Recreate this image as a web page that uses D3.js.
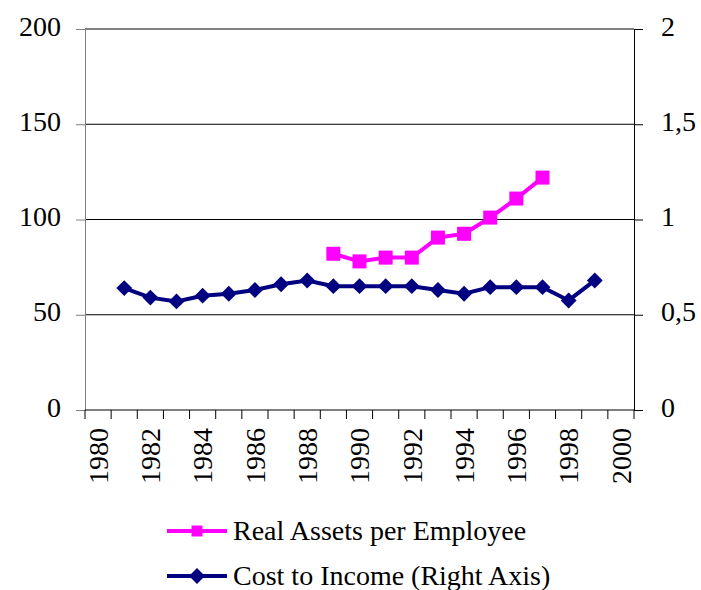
<!DOCTYPE html>
<html>
<head>
<meta charset="utf-8">
<script src="https://cdn.jsdelivr.net/npm/d3@7"></script>
<style>
    body { margin: 0; background: #fff; }
    svg text { font-family: "Liberation Serif", "DejaVu Serif", serif; fill: #000; }
</style>
</head>
<body>
<div id="chart"></div>
<script>
// chart data
var years = d3.range(1980, 2001);
var yearLabels = years.filter(function (y) { return y % 2 === 0; });

var assetYears = [1989, 1990, 1991, 1992, 1993, 1994, 1995, 1996, 1997];
var assetValues = [82, 78, 80, 80, 90.5, 92.5, 101, 111, 122];

var costYears = [1981, 1982, 1983, 1984, 1985, 1986, 1987, 1988, 1989, 1990,
    1991, 1992, 1993, 1994, 1995, 1996, 1997, 1998, 1999];
var costValues = [0.64, 0.59, 0.57, 0.60, 0.61, 0.63, 0.66, 0.68, 0.65, 0.65,
    0.65, 0.65, 0.63, 0.61, 0.645, 0.645, 0.645, 0.575, 0.68];

var leftTicks = [0, 50, 100, 150, 200];
var rightTicks = [0, 0.5, 1, 1.5, 2];

var width = 701, height = 590;
var margin = { top: 29, right: 67, bottom: 180, left: 85 };
var plotW = width - margin.left - margin.right;
var plotH = height - margin.top - margin.bottom;
var fontSize = 28;
var serif = '"Liberation Serif", "DejaVu Serif", serif';

var svg = d3.select('#chart')
    .append('svg')
    .attr('width', width)
    .attr('height', height)
    .attr('font-family', serif);

var g = svg.append('g')
    .attr('transform', 'translate(' + margin.left + ',' + margin.top + ')');

var x = d3.scaleBand().domain(years).range([0, plotW]);
var yLeft = d3.scaleLinear().domain([0, 200]).range([plotH, 0]);
var yRight = d3.scaleLinear().domain([0, 2]).range([plotH, 0]);

var fmtRight = function (d) { return String(d).replace('.', ','); };

// gridlines
g.selectAll('.grid')
    .data(leftTicks.slice(1))
    .enter()
    .append('line')
    .attr('x1', 0)
    .attr('x2', plotW)
    .attr('y1', function (d) { return yLeft(d); })
    .attr('y2', function (d) { return yLeft(d); })
    .attr('stroke', '#000')
    .attr('stroke-width', 1);

// left axis
var leftAxis = g.append('g')
    .call(d3.axisLeft(yLeft).tickValues(leftTicks).tickSize(9).tickPadding(15));
leftAxis.attr('font-family', serif).attr('font-size', fontSize);
leftAxis.select('.domain').attr('stroke', '#808080');
leftAxis.selectAll('.tick line').attr('stroke', '#808080');
leftAxis.selectAll('text').attr('dy', '0.22em');

// right axis
var rightAxis = g.append('g')
    .attr('transform', 'translate(' + plotW + ',0)')
    .call(d3.axisRight(yRight).tickValues(rightTicks).tickFormat(fmtRight).tickSize(9).tickPadding(18));
rightAxis.attr('font-family', serif).attr('font-size', fontSize);
rightAxis.select('.domain').attr('stroke', '#000');
rightAxis.selectAll('text').attr('dy', '0.22em');

// bottom axis, ticks between categories
var bottom = g.append('g').attr('transform', 'translate(0,' + plotH + ')');
bottom.append('line')
    .attr('x1', 0).attr('x2', plotW)
    .attr('stroke', '#000');
bottom.selectAll('.xtick')
    .data(years.concat([2001]))
    .enter()
    .append('line')
    .attr('x1', function (d, i) { return i * x.bandwidth(); })
    .attr('x2', function (d, i) { return i * x.bandwidth(); })
    .attr('y1', 0)
    .attr('y2', 9)
    .attr('stroke', '#000');
bottom.selectAll('.xlabel')
    .data(yearLabels)
    .enter()
    .append('text')
    .attr('transform', function (d) {
        return 'translate(' + (x(d) + x.bandwidth() / 2) + ',18) rotate(-90)';
    })
    .attr('text-anchor', 'end')
    .attr('dy', '0.35em')
    .attr('font-size', fontSize)
    .text(function (d) { return d; });

var cx = function (yr) { return x(yr) + x.bandwidth() / 2; };

// real assets series
var assetData = assetYears.map(function (yr, i) { return { year: yr, value: assetValues[i] }; });
var assetLine = d3.line()
    .x(function (d) { return cx(d.year); })
    .y(function (d) { return yLeft(d.value); });

g.append('path')
    .datum(assetData)
    .attr('d', assetLine)
    .attr('fill', 'none')
    .attr('stroke', '#ff00ff')
    .attr('stroke-width', 4);

g.selectAll('.sq')
    .data(assetData)
    .enter()
    .append('rect')
    .attr('x', function (d) { return cx(d.year) - 7; })
    .attr('y', function (d) { return yLeft(d.value) - 7; })
    .attr('width', 14)
    .attr('height', 14)
    .attr('fill', '#ff00ff');

// cost to income series
var costData = costYears.map(function (yr, i) { return { year: yr, value: costValues[i] }; });
var costLine = d3.line()
    .x(function (d) { return cx(d.year); })
    .y(function (d) { return yRight(d.value); });

g.append('path')
    .datum(costData)
    .attr('d', costLine)
    .attr('fill', 'none')
    .attr('stroke', '#000080')
    .attr('stroke-width', 4);

var diamond = d3.symbol().type(d3.symbolDiamond2).size(160);
g.selectAll('.dm')
    .data(costData)
    .enter()
    .append('path')
    .attr('d', diamond)
    .attr('transform', function (d) {
        return 'translate(' + cx(d.year) + ',' + yRight(d.value) + ')';
    })
    .attr('fill', '#000080');

// legend
var legendItems = [
    { name: 'Real Assets per Employee', color: '#ff00ff', shape: 'square' },
    { name: 'Cost to Income (Right Axis)', color: '#000080', shape: 'diamond' }
];
var legend = svg.append('g').attr('transform', 'translate(167,531)');
var item = legend.selectAll('.item')
    .data(legendItems)
    .enter()
    .append('g')
    .attr('transform', function (d, i) { return 'translate(0,' + (i * 45) + ')'; });

item.append('line')
    .attr('x1', 0).attr('x2', 60)
    .attr('stroke', function (d) { return d.color; })
    .attr('stroke-width', 4);
item.append('path')
    .attr('d', function (d) {
        return d.shape === 'square'
            ? d3.symbol().type(d3.symbolSquare).size(120)()
            : d3.symbol().type(d3.symbolDiamond2).size(160)();
    })
    .attr('transform', 'translate(30,0)')
    .attr('fill', function (d) { return d.color; });
item.append('text')
    .attr('x', 66)
    .attr('dy', '0.33em')
    .attr('font-size', fontSize)
    .text(function (d) { return d.name; });
</script>
</body>
</html>
